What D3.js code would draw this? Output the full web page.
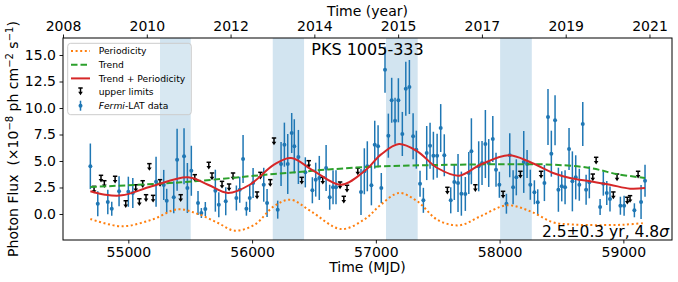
<!DOCTYPE html>
<html>
<head>
<meta charset="utf-8">
<script src="https://cdn.jsdelivr.net/npm/d3@7"></script>
<style>
  body { margin: 0; background: #fff; }
  svg { display: block; font-family: "DejaVu Sans", sans-serif; }
</style>
</head>
<body>
<script>
// data
var fluxMJD = [54693,54753,54834,54866,54925,55000,55036,55224,55286,55310,
  55367,55394,55450,55477,55509,55563,55590,55622,55703,55731,
  55787,55873,55900,55927,55954,55981,56008,56094,56121,56207,
  56234,56261,56288,56320,56341,56374,56430,56487,56514,56543,
  56598,56627,56654,56678,56880,56907,56931,56964,56991,57018,
  57044,57074,57101,57128,57155,57182,57214,57242,57271,57301,
  57327,57357,57384,57411,57438,57465,57495,57524,57553,57605,
  57634,57664,57691,57723,57751,57772,57831,57858,57885,57912,
  57945,57971,57998,58055,58082,58109,58135,58195,58222,58248,
  58281,58308,58362,58391,58418,58448,58475,58502,58529,58561,
  58588,58615,58644,58672,58699,58725,58812,58838,58866,58892,
  58976,59006,59089,59143,59175];
var fluxVal = [4.50,0.97,1.13,0.50,2.14,2.10,1.98,3.05,2.74,1.25,
  1.58,5.12,5.44,2.45,4.08,1.04,0.09,0.47,2.20,0.88,
  1.20,1.51,2.29,5.19,0.50,1.51,2.92,2.76,1.04,0.41,
  4.72,6.54,4.72,7.64,6.39,5.38,3.93,2.24,3.24,3.40,
  4.34,1.58,2.52,2.52,2.08,4.03,4.50,2.71,6.54,6.39,
  2.45,13.61,7.39,10.73,8.80,10.73,7.55,11.82,11.98,7.33,
  6.07,2.86,1.29,5.75,6.44,5.50,5.50,8.11,5.54,1.29,
  3.02,2.92,1.92,1.89,3.87,5.92,4.50,4.81,6.60,4.81,
  7.08,4.18,2.76,0.97,5.54,2.52,3.46,4.91,4.72,2.76,
  2.05,1.10,2.92,9.15,5.69,8.84,2.29,2.61,2.52,6.13,
  3.08,3.46,2.76,8.49,2.29,2.99,0.66,2.86,1.98,1.42,
  0.78,0.78,0.35,1.13,3.14];
var fluxErr = [2.15,1.18,1.15,0.66,1.42,1.42,1.42,2.36,1.42,1.13,
  1.51,2.92,2.64,2.36,2.36,1.13,0.47,0.66,1.98,1.18,
  1.32,1.18,1.23,2.26,0.66,1.32,1.42,1.60,1.32,0.85,
  2.08,2.08,2.83,1.89,2.55,2.55,1.42,1.23,1.60,2.08,
  2.17,1.18,1.60,1.60,2.17,2.17,2.36,1.89,2.26,1.98,
  1.42,2.17,2.08,2.12,2.17,2.08,2.08,2.55,2.55,2.17,
  1.79,1.23,1.18,2.55,2.17,2.26,2.08,2.26,1.98,1.23,
  1.70,2.74,2.08,1.60,1.98,3.11,2.36,2.08,3.21,2.26,
  2.17,1.60,1.23,0.94,2.08,1.60,1.70,2.92,1.32,1.42,
  1.13,1.23,1.70,2.64,2.17,2.36,2.08,1.42,1.60,1.98,
  2.83,2.08,1.51,2.08,1.42,1.51,0.75,1.13,1.13,1.18,
  0.85,0.94,0.66,1.60,1.51];

var ulMJD = [54723,54779,54806,54893,54979,55060,55089,55116,55143,55170,
  55200,55256,55423,55537,55650,55676,55757,55814,55846,56040,
  56067,56147,56177,56401,56458,56571,56711,56741,56767,56854,
  57578,57804,58028,58168,58335,58753,58780,58919,58949,59032,
  59054,59119];
var ulVal = [2.61,3.65,3.14,3.56,1.25,2.76,1.44,3.14,1.82,4.75,
  1.76,3.24,1.82,3.71,4.88,3.87,3.08,2.83,3.87,2.08,
  3.93,3.24,7.17,3.46,5.03,3.46,3.02,1.67,2.71,4.34,
  2.52,2.76,2.14,4.03,4.03,3.77,5.35,2.08,3.77,1.58,
  1.73,4.03];

// model curves (read at turning points)
var periodMJD = [54693,54947,55189,55400,55563,55725,55860,56021,56177,56310,56476,56719,56915,57040,57187,57335,57497,57672,57844,58060,58249,58432,58596,58812,59014,59175];
var periodVal = [-0.47,-1.16,-0.54,0.45,0.0,-0.85,-1.57,-1.0,0.73,1.35,0.25,-1.42,-0.45,0.88,1.98,1.2,-0.54,-1.07,-0.22,0.82,0.25,-0.78,-1.0,-1.05,-1.0,-0.85];
var trendMJD = [54693,55426,56177,56921,57672,58432,58731,58947,59175];
var trendVal = [2.55,2.99,3.77,4.43,4.65,4.65,4.34,3.77,3.40];
var sumMJD = [54693,54812,54947,55189,55482,55644,55806,55981,56177,56315,56503,56719,56921,57040,57187,57335,57497,57672,57844,58074,58249,58432,58569,58731,58893,59054,59175];
var sumVal = [2.14,1.82,1.76,2.61,3.46,2.76,1.98,2.76,4.65,5.28,4.03,2.76,4.18,5.6,6.6,5.91,4.34,3.62,4.65,5.54,4.88,3.87,3.4,3.08,2.76,2.39,2.45];

var bandStart = [55256, 56167, 57082, 58004];
var bandEnd = [55504, 56420, 57338, 58260];

var mjdTicks = [55000, 56000, 57000, 58000, 59000];
var fluxTicks = [0, 2.5, 5, 7.5, 10, 12.5, 15];
var yearTickMJD = [54472, 55149, 55826, 56503, 57180, 57857, 58534, 59211];
var yearTickLabels = ["2008", "2010", "2012", "2014", "2015", "2017", "2019", "2021"];

var width = 678, height = 282;
var pLeft = 63, pRight = 672, pTop = 38, pBottom = 240;

var svg = d3.select("body").append("svg")
  .attr("width", width)
  .attr("height", height);

var x = d3.scaleLinear().domain([54472, 59393]).range([pLeft, pRight]);
var y = d3.scaleLinear().domain([-2.453, 16.604]).range([pBottom, pTop]);

svg.append("clipPath").attr("id", "plot")
  .append("rect").attr("x", pLeft).attr("y", pTop)
  .attr("width", pRight - pLeft).attr("height", pBottom - pTop);

var plot = svg.append("g").attr("clip-path", "url(#plot)");

// shaded periods
plot.selectAll("rect.band")
  .data(bandStart)
  .enter().append("rect")
  .attr("class", "band")
  .attr("x", function(d) { return x(d); })
  .attr("y", pTop)
  .attr("width", function(d, i) { return x(bandEnd[i]) - x(d); })
  .attr("height", pBottom - pTop)
  .attr("fill", "#1f77b4")
  .attr("opacity", 0.2);

// Fermi points with error bars
var blue = "#1f77b4";
plot.selectAll("line.err")
  .data(fluxMJD)
  .enter().append("line")
  .attr("x1", function(d) { return x(d); })
  .attr("x2", function(d) { return x(d); })
  .attr("y1", function(d, i) { return y(fluxVal[i] + fluxErr[i]); })
  .attr("y2", function(d, i) { return y(fluxVal[i] - fluxErr[i]); })
  .attr("stroke", blue)
  .attr("stroke-width", 1.5);

plot.selectAll("circle.pt")
  .data(fluxMJD)
  .enter().append("circle")
  .attr("cx", function(d) { return x(d); })
  .attr("cy", function(d, i) { return y(fluxVal[i]); })
  .attr("r", 2)
  .attr("fill", blue);

// upper limit glyph: cap on top, arrow pointing down
function upperLimit(g, cx, cy) {
  g.append("line").attr("x1", cx - 2.2).attr("x2", cx + 2.2)
    .attr("y1", cy).attr("y2", cy)
    .attr("stroke", "black").attr("stroke-width", 1.5);
  g.append("line").attr("x1", cx).attr("x2", cx)
    .attr("y1", cy).attr("y2", cy + 5)
    .attr("stroke", "black").attr("stroke-width", 1.5);
  g.append("path")
    .attr("d", "M" + (cx - 2.3) + "," + (cy + 3.8) + "L" + (cx + 2.3) + "," + (cy + 3.8) + "L" + cx + "," + (cy + 7.2) + "Z")
    .attr("fill", "black");
}

var ul = plot.append("g");
ulMJD.forEach(function(d, i) {
  upperLimit(ul, x(d), y(ulVal[i]));
});

// curves on top
var line = d3.line()
  .x(function(d) { return x(d[0]); })
  .y(function(d) { return y(d[1]); })
  .curve(d3.curveCatmullRom.alpha(0.5));

plot.append("path")
  .attr("d", line(d3.zip(periodMJD, periodVal)))
  .attr("fill", "none")
  .attr("stroke", "#ff7f0e")
  .attr("stroke-width", 2)
  .attr("stroke-dasharray", "2,2.6");

plot.append("path")
  .attr("d", line(d3.zip(trendMJD, trendVal)))
  .attr("fill", "none")
  .attr("stroke", "#2ca02c")
  .attr("stroke-width", 2)
  .attr("stroke-dasharray", "6.5,3");

plot.append("path")
  .attr("d", line(d3.zip(sumMJD, sumVal)))
  .attr("fill", "none")
  .attr("stroke", "#d62728")
  .attr("stroke-width", 2);

// axes
var xAxis = svg.append("g")
  .attr("transform", "translate(0," + pBottom + ")")
  .call(d3.axisBottom(x).tickValues(mjdTicks).tickSize(3.5).tickPadding(3.5).tickFormat(d3.format("d")));

var yAxis = svg.append("g")
  .attr("transform", "translate(" + pLeft + ",0)")
  .call(d3.axisLeft(y).tickValues(fluxTicks).tickSize(3.5).tickPadding(3.5).tickFormat(d3.format(".1f")));

var topAxis = svg.append("g")
  .attr("transform", "translate(0," + pTop + ")")
  .call(d3.axisTop(x).tickValues(yearTickMJD).tickSize(3.5).tickPadding(3.5)
    .tickFormat(function(d, i) { return yearTickLabels[i]; }));

[xAxis, yAxis, topAxis].forEach(function(a) {
  a.select(".domain").remove();
  a.attr("font-family", "DejaVu Sans").attr("font-size", 14);
  a.selectAll("line").attr("stroke", "black").attr("stroke-width", 0.9);
  a.selectAll("text").attr("fill", "black");
});

svg.append("rect")
  .attr("x", pLeft).attr("y", pTop)
  .attr("width", pRight - pLeft).attr("height", pBottom - pTop)
  .attr("fill", "none")
  .attr("stroke", "black")
  .attr("stroke-width", 1);

// axis titles
svg.append("text")
  .attr("x", (pLeft + pRight) / 2).attr("y", 272)
  .attr("text-anchor", "middle")
  .attr("font-size", 14)
  .text("Time (MJD)");

svg.append("text")
  .attr("x", (pLeft + pRight) / 2).attr("y", 16)
  .attr("text-anchor", "middle")
  .attr("font-size", 14)
  .text("Time (year)");

var ylab = svg.append("text")
  .attr("transform", "translate(18," + ((pTop + pBottom) / 2) + ") rotate(-90)")
  .attr("text-anchor", "middle")
  .attr("font-size", 14)
  .style("white-space", "pre");
ylab.append("tspan").text("Photon Flux  (\u00d710");
ylab.append("tspan").attr("dy", -5).attr("font-size", 10).text("\u22128");
ylab.append("tspan").attr("dy", 5).text(" ph cm");
ylab.append("tspan").attr("dy", -5).attr("font-size", 10).text("\u22122");
ylab.append("tspan").attr("dy", 5).text(" s");
ylab.append("tspan").attr("dy", -5).attr("font-size", 10).text("\u22121");
ylab.append("tspan").attr("dy", 5).text(")");

// source name and result
svg.append("text")
  .attr("x", (pLeft + pRight) / 2).attr("y", 55)
  .attr("text-anchor", "middle")
  .attr("font-size", 16)
  .text("PKS 1005-333");

var res = svg.append("text")
  .attr("x", 669).attr("y", 237)
  .attr("text-anchor", "end")
  .attr("font-size", 15.5);
res.append("tspan").text("2.5\u00b10.3 yr, 4.8");
res.append("tspan").attr("font-style", "italic").text("\u03c3");

// legend
var legend = svg.append("g");
legend.append("rect")
  .attr("x", 67.7).attr("y", 43.3)
  .attr("width", 123.6).attr("height", 71.4)
  .attr("rx", 3)
  .attr("fill", "white").attr("fill-opacity", 0.15)
  .attr("stroke", "#cccccc").attr("stroke-width", 1);

var rows = [51, 64.7, 78.4, 92, 105.7];
var labels = ["Periodicity", "Trend", "Trend + Periodicity", "upper limits", null];

legend.append("line").attr("x1", 71).attr("x2", 90).attr("y1", rows[0]).attr("y2", rows[0])
  .attr("stroke", "#ff7f0e").attr("stroke-width", 2).attr("stroke-dasharray", "2,2.6");
legend.append("line").attr("x1", 71).attr("x2", 90).attr("y1", rows[1]).attr("y2", rows[1])
  .attr("stroke", "#2ca02c").attr("stroke-width", 2).attr("stroke-dasharray", "6.5,3");
legend.append("line").attr("x1", 71).attr("x2", 90).attr("y1", rows[2]).attr("y2", rows[2])
  .attr("stroke", "#d62728").attr("stroke-width", 2);
upperLimit(legend, 80.5, rows[3] - 4);
legend.append("line").attr("x1", 80.5).attr("x2", 80.5).attr("y1", rows[4] - 5).attr("y2", rows[4] + 5)
  .attr("stroke", blue).attr("stroke-width", 1.5);
legend.append("circle").attr("cx", 80.5).attr("cy", rows[4]).attr("r", 2).attr("fill", blue);

labels.forEach(function(t, i) {
  var tx = legend.append("text")
    .attr("x", 98.7).attr("y", rows[i])
    .attr("dy", "0.35em")
    .attr("font-size", 9.2);
  if (t) {
    tx.text(t);
  } else {
    tx.append("tspan").attr("font-style", "italic").text("Fermi");
    tx.append("tspan").text("-LAT data");
  }
});
</script>
</body>
</html>
